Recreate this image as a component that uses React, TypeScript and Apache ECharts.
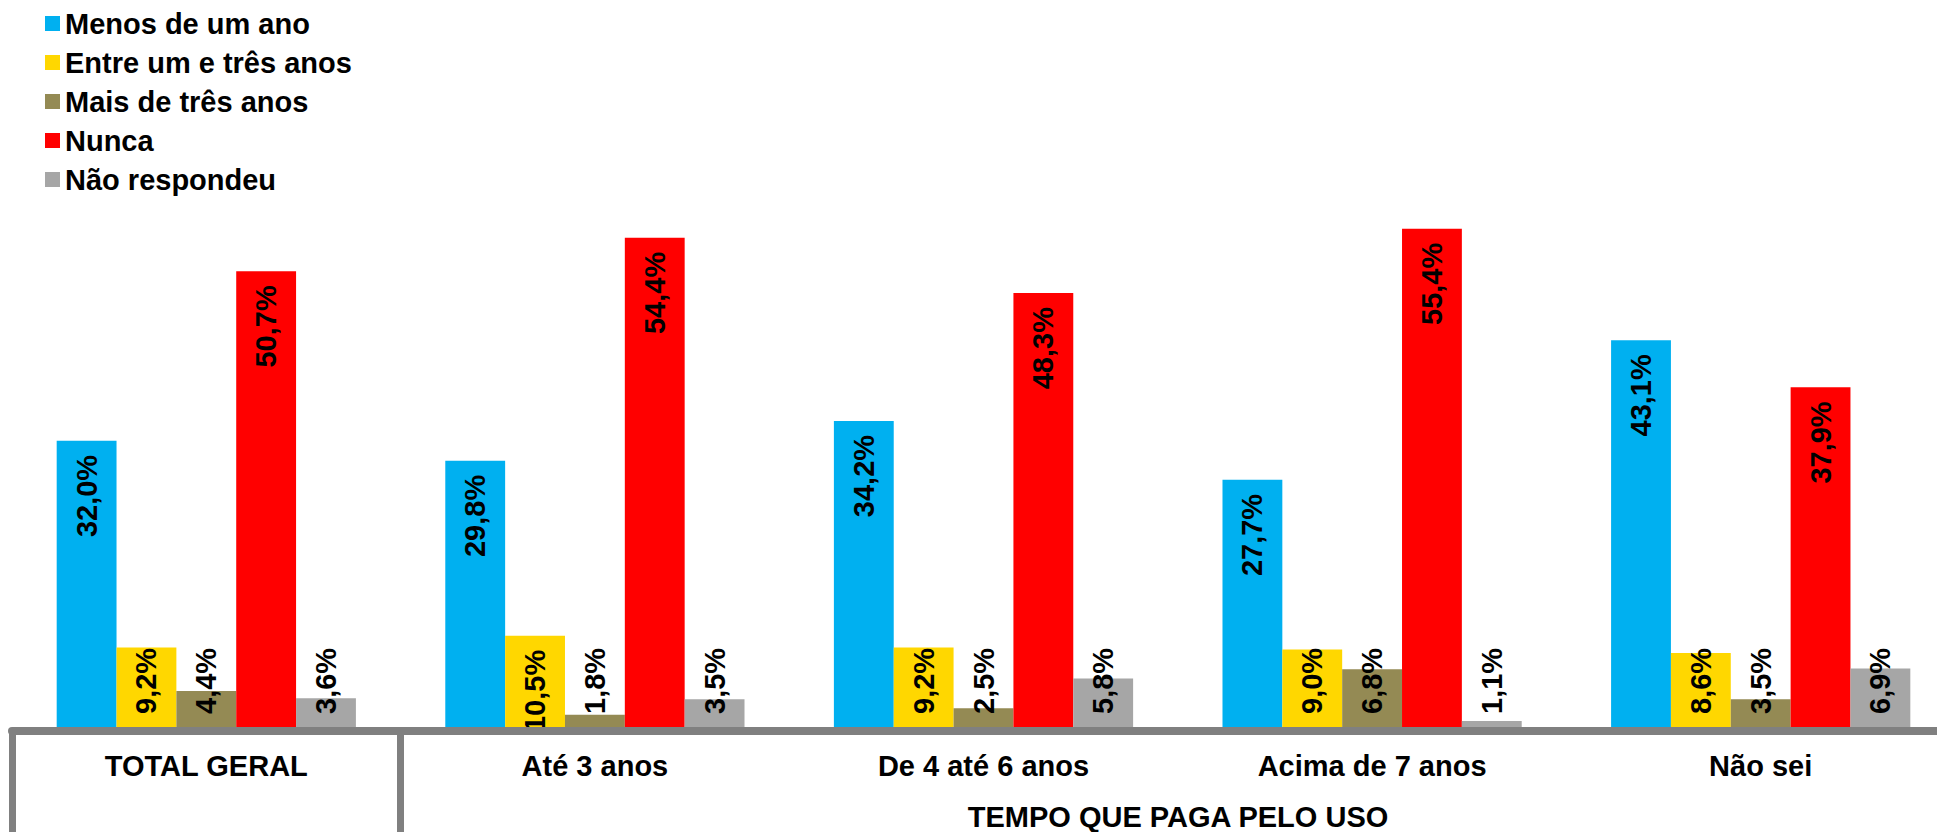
import React, { useEffect, useRef } from "react";
import * as echarts from "echarts";

const categories = ["TOTAL GERAL", "Até 3 anos", "De 4 até 6 anos", "Acima de 7 anos", "Não sei"];
const groupTitle = "TEMPO QUE PAGA PELO USO";
const seriesNames = ["Menos de um ano", "Entre um e três anos", "Mais de três anos", "Nunca", "Não respondeu"];
const menosDeUmAno = [32.0, 29.8, 34.2, 27.7, 43.1];
const entreUmETres = [9.2, 10.5, 9.2, 9.0, 8.6];
const maisDeTres = [4.4, 1.8, 2.5, 6.8, 3.5];
const nunca = [50.7, 54.4, 48.3, 55.4, 37.9];
const naoRespondeu = [3.6, 3.5, 5.8, 1.1, 6.9];
const seriesValues = [menosDeUmAno, entreUmETres, maisDeTres, nunca, naoRespondeu];
const colors = ["#00B0F0", "#FFD700", "#948A54", "#FF0000", "#A6A6A6"];

const FONT = "'Liberation Sans', Arial, sans-serif";
const FS = 29;

function labelFor(v: number) {
  if (v >= 10) {
    return { position: "insideTop", align: "right", verticalAlign: "middle", distance: 14 };
  }
  return { position: "insideBottom", align: "left", verticalAlign: "middle", distance: 17 };
}

export default function App() {
  const ref = useRef<HTMLDivElement>(null);
  useEffect(() => {
    if (!ref.current) return;
    const chart = echarts.init(ref.current, null, { renderer: "svg" });
    const option: any = {
      animation: false,
      textStyle: { fontFamily: FONT },
      legend: {
        orient: "vertical",
        left: 40,
        top: 4,
        itemWidth: 15,
        itemHeight: 15,
        itemGap: 10,
        icon: "rect",
        data: seriesNames,
        textStyle: { fontSize: FS, fontWeight: "bold", color: "#000", fontFamily: FONT },
      },
      grid: { left: 12, right: 5, top: 187, bottom: 101, containLabel: false },
      xAxis: {
        type: "category",
        data: categories,
        z: 10,
        axisLine: { show: true, lineStyle: { color: "#808080", width: 8 } },
        axisTick: {
          show: true,
          interval: (i: number) => i <= 1,
          length: 105,
          lineStyle: { color: "#808080", width: 7 },
        },
        axisLabel: {
          margin: 20,
          fontSize: FS,
          fontWeight: "bold",
          color: "#000",
          fontFamily: FONT,
          interval: 0,
        },
      },
      yAxis: {
        type: "value",
        min: 0,
        max: 60,
        show: false,
        splitLine: { show: false },
      },
      graphic: [
        {
          type: "text",
          x: 1178,
          y: 817,
          style: {
            text: groupTitle,
            fill: "#000",
            fontSize: FS,
            fontWeight: "bold",
            fontFamily: FONT,
            textAlign: "center",
            textVerticalAlign: "middle",
          },
        },
      ],
      series: seriesNames.map((name, si) => ({
        name,
        type: "bar",
        barGap: "0%",
        barCategoryGap: "23%",
        itemStyle: { color: colors[si] },
        label: {
          show: true,
          rotate: 90,
          fontSize: FS,
          fontWeight: "bold",
          color: "#000",
          fontFamily: FONT,
          formatter: (p: any) => Number(p.value).toFixed(1).replace(".", ",") + "%",
        },
        data: seriesValues[si].map((v) => ({ value: v, label: labelFor(v) })),
      })),
    };
    chart.setOption(option);
    return () => chart.dispose();
  }, []);
  return (
    <div
      style={{
        position: "fixed",
        left: 0,
        top: 0,
        width: 1937,
        height: 832,
        overflow: "hidden",
        background: "#fff",
      }}
    >
      <div ref={ref} style={{ width: 1960, height: 832 }} />
    </div>
  );
}
